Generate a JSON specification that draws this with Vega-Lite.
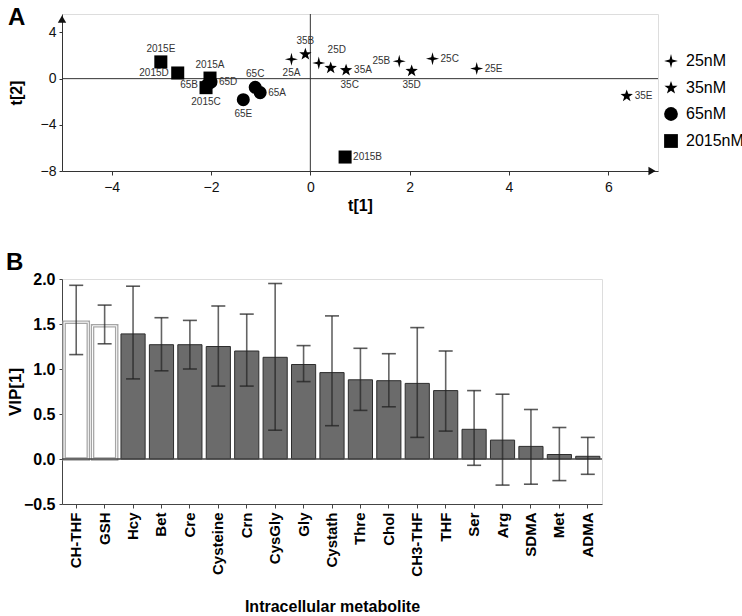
{
  "$schema": "https://vega.github.io/schema/vega-lite/v6.json",
  "spacing": 36,
  "datasets": {
    "scores": [
      {"id": "65A", "group": "65nM", "t1": -1.01, "t2": -1.21},
      {"id": "65B", "group": "65nM", "t1": -2.08, "t2": -0.55},
      {"id": "65C", "group": "65nM", "t1": -1.11, "t2": -0.75},
      {"id": "65D", "group": "65nM", "t1": -2.0, "t2": -0.3},
      {"id": "65E", "group": "65nM", "t1": -1.35, "t2": -1.82},
      {"id": "2015A", "group": "2015nM", "t1": -2.02, "t2": 0.05},
      {"id": "2015B", "group": "2015nM", "t1": 0.7, "t2": -6.79},
      {"id": "2015C", "group": "2015nM", "t1": -2.1, "t2": -0.78},
      {"id": "2015D", "group": "2015nM", "t1": -2.67, "t2": 0.49},
      {"id": "2015E", "group": "2015nM", "t1": -3.01, "t2": 1.45},
      {"id": "25A", "group": "25nM", "t1": -0.38, "t2": 1.68},
      {"id": "25B", "group": "25nM", "t1": 1.79, "t2": 1.51},
      {"id": "25C", "group": "25nM", "t1": 2.46, "t2": 1.73},
      {"id": "25D", "group": "25nM", "t1": 0.17, "t2": 1.36},
      {"id": "25E", "group": "25nM", "t1": 3.35, "t2": 0.87},
      {"id": "35A", "group": "35nM", "t1": 0.72, "t2": 0.73},
      {"id": "35B", "group": "35nM", "t1": -0.1, "t2": 2.11},
      {"id": "35C", "group": "35nM", "t1": 0.41, "t2": 0.93},
      {"id": "35D", "group": "35nM", "t1": 2.04, "t2": 0.67},
      {"id": "35E", "group": "35nM", "t1": 6.37, "t2": -1.5}
    ],
    "zero": [{"v": 0}],
    "arrowx": [{"x": 6.88, "y": -8}],
    "arrowy": [{"x": -5, "y": 5.15}],
    "vip": [
      {"name": "CH-THF", "vip": 1.52, "lo": 1.16, "hi": 1.93},
      {"name": "GSH", "vip": 1.48, "lo": 1.28, "hi": 1.71},
      {"name": "Hcy", "vip": 1.39, "lo": 0.89, "hi": 1.92},
      {"name": "Bet", "vip": 1.27, "lo": 0.98, "hi": 1.57},
      {"name": "Cre", "vip": 1.27, "lo": 1.0, "hi": 1.54},
      {"name": "Cysteine", "vip": 1.25, "lo": 0.81, "hi": 1.7},
      {"name": "Crn", "vip": 1.2, "lo": 0.81, "hi": 1.61},
      {"name": "CysGly", "vip": 1.13, "lo": 0.32, "hi": 1.95},
      {"name": "Gly", "vip": 1.05, "lo": 0.86, "hi": 1.26},
      {"name": "Cystath", "vip": 0.96, "lo": 0.37, "hi": 1.59},
      {"name": "Thre", "vip": 0.88, "lo": 0.54, "hi": 1.23},
      {"name": "Chol", "vip": 0.87, "lo": 0.58, "hi": 1.17},
      {"name": "CH3-THF", "vip": 0.84, "lo": 0.24, "hi": 1.46},
      {"name": "THF", "vip": 0.76, "lo": 0.31, "hi": 1.2},
      {"name": "Ser", "vip": 0.33, "lo": -0.07, "hi": 0.76},
      {"name": "Arg", "vip": 0.21, "lo": -0.29, "hi": 0.72},
      {"name": "SDMA", "vip": 0.14, "lo": -0.28, "hi": 0.55},
      {"name": "Met", "vip": 0.05, "lo": -0.24, "hi": 0.35},
      {"name": "ADMA", "vip": 0.03, "lo": -0.17, "hi": 0.24}
    ]
  },
  "vconcat": [
    {
      "width": 596,
      "height": 157,
      "title": {"text": "A", "anchor": "start", "fontSize": 24, "fontWeight": "bold", "offset": -16},
      "layer": [
        {
          "data": {"name": "zero"},
          "mark": {"type": "rule", "color": "#333"},
          "encoding": {"x": {"field": "v", "type": "quantitative"}}
        },
        {
          "data": {"name": "zero"},
          "mark": {"type": "rule", "color": "#333"},
          "encoding": {"y": {"field": "v", "type": "quantitative"}}
        },
        {
          "data": {"name": "arrowx"},
          "mark": {"type": "point", "shape": "triangle-right", "filled": true, "color": "#111", "size": 70, "opacity": 1},
          "encoding": {"x": {"field": "x", "type": "quantitative"}, "y": {"field": "y", "type": "quantitative"}}
        },
        {
          "data": {"name": "arrowy"},
          "mark": {"type": "point", "shape": "triangle-up", "filled": true, "color": "#111", "size": 70, "opacity": 1},
          "encoding": {"x": {"field": "x", "type": "quantitative"}, "y": {"field": "y", "type": "quantitative"}}
        },
        {
          "data": {"name": "scores"},
          "mark": {"type": "point", "filled": true, "color": "#000", "opacity": 1, "size": 170},
          "encoding": {
            "x": {"field": "t1", "type": "quantitative", "scale": {"domain": [-5, 7], "nice": false},
              "axis": {"values": [-4, -2, 0, 2, 4, 6], "grid": false, "title": "t[1]", "titleFontSize": 16, "labelFontSize": 14, "labelColor": "#111", "titleColor": "#000", "tickSize": 4, "tickColor": "#333", "domainColor": "#333", "labelPadding": 5, "titlePadding": 3}},
            "y": {"field": "t2", "type": "quantitative", "scale": {"domain": [-8, 5.6], "nice": false},
              "axis": {"values": [-8, -6, -4, -2, 0, 2, 4], "grid": false, "title": "t[2]", "titleFontSize": 16, "labelFontSize": 14, "labelColor": "#111", "titleColor": "#000", "tickSize": 3, "tickColor": "#333", "domainColor": "#333", "labelPadding": 3, "titlePadding": 8, "minExtent": 30, "maxExtent": 30}},
            "shape": {"field": "group", "type": "nominal",
              "scale": {"domain": ["25nM", "35nM", "65nM", "2015nM"], "range": ["M0,-1L0.2,-0.2L1,0L0.2,0.2L0,1L-0.2,0.2L-1,0L-0.2,-0.2Z", "M0,-1L0.235,-0.324L0.951,-0.309L0.38,0.124L0.588,0.809L0,0.4L-0.588,0.809L-0.38,0.124L-0.951,-0.309L-0.235,-0.324Z", "circle", "square"]},
              "legend": {"title": null, "orient": "none", "legendX": 601, "legendY": 39, "labelFontSize": 16, "labelColor": "#000", "symbolSize": 190, "symbolFillColor": "#000", "symbolStrokeColor": "#000", "rowPadding": 7, "labelOffset": 7}}
          }
        },
        {
          "data": {"name": "scores"},
          "transform": [{"filter": {"field": "id", "oneOf": ["2015E", "2015A", "65C", "35B"]}}],
          "mark": {"type": "text", "fontSize": 10, "color": "#333", "align": "center", "baseline": "bottom", "dy": -8},
          "encoding": {"x": {"field": "t1", "type": "quantitative"}, "y": {"field": "t2", "type": "quantitative"}, "text": {"field": "id", "type": "nominal"}}
        },
        {
          "data": {"name": "scores"},
          "transform": [{"filter": {"field": "id", "oneOf": ["2015C", "65E", "25A", "35D"]}}],
          "mark": {"type": "text", "fontSize": 10, "color": "#333", "align": "center", "baseline": "top", "dy": 9},
          "encoding": {"x": {"field": "t1", "type": "quantitative"}, "y": {"field": "t2", "type": "quantitative"}, "text": {"field": "id", "type": "nominal"}}
        },
        {
          "data": {"name": "scores"},
          "transform": [{"filter": {"field": "id", "oneOf": ["2015D", "65B", "25B"]}}],
          "mark": {"type": "text", "fontSize": 10, "color": "#333", "align": "right", "baseline": "middle", "dx": -9},
          "encoding": {"x": {"field": "t1", "type": "quantitative"}, "y": {"field": "t2", "type": "quantitative"}, "text": {"field": "id", "type": "nominal"}}
        },
        {
          "data": {"name": "scores"},
          "transform": [{"filter": {"field": "id", "oneOf": ["65D", "65A", "2015B", "25C", "25E", "35E", "35A"]}}],
          "mark": {"type": "text", "fontSize": 10, "color": "#333", "align": "left", "baseline": "middle", "dx": 8},
          "encoding": {"x": {"field": "t1", "type": "quantitative"}, "y": {"field": "t2", "type": "quantitative"}, "text": {"field": "id", "type": "nominal"}}
        },
        {
          "data": {"name": "scores"},
          "transform": [{"filter": {"field": "id", "oneOf": ["25D"]}}],
          "mark": {"type": "text", "fontSize": 10, "color": "#333", "align": "center", "baseline": "bottom", "dx": 18, "dy": -8},
          "encoding": {"x": {"field": "t1", "type": "quantitative"}, "y": {"field": "t2", "type": "quantitative"}, "text": {"field": "id", "type": "nominal"}}
        },
        {
          "data": {"name": "scores"},
          "transform": [{"filter": {"field": "id", "oneOf": ["35C"]}}],
          "mark": {"type": "text", "fontSize": 10, "color": "#333", "align": "center", "baseline": "top", "dx": 19, "dy": 12},
          "encoding": {"x": {"field": "t1", "type": "quantitative"}, "y": {"field": "t2", "type": "quantitative"}, "text": {"field": "id", "type": "nominal"}}
        }
      ]
    },
    {
      "width": 540,
      "height": 225,
      "title": {"text": "B", "anchor": "start", "fontSize": 24, "fontWeight": "bold", "offset": -4},
      "layer": [
        {
          "data": {"name": "vip"},
          "transform": [{"filter": {"not": {"field": "name", "oneOf": ["CH-THF", "GSH"]}}}],
          "mark": {"type": "bar", "fill": "#6b6b6b", "stroke": "#2d2d2d", "strokeWidth": 1},
          "encoding": {
            "x": {"field": "name", "type": "nominal",
              "sort": ["CH-THF", "GSH", "Hcy", "Bet", "Cre", "Cysteine", "Crn", "CysGly", "Gly", "Cystath", "Thre", "Chol", "CH3-THF", "THF", "Ser", "Arg", "SDMA", "Met", "ADMA"],
              "scale": {"paddingInner": 0.15, "paddingOuter": 0.075},
              "axis": {"labelAngle": -90, "labelFontWeight": "bold", "labelFontSize": 15, "labelColor": "#000", "title": "Intracellular metabolite", "titleFontSize": 16, "titleColor": "#000", "tickSize": 4, "tickColor": "#444", "domainColor": "#444", "labelPadding": 4, "titlePadding": 22}},
            "y": {"field": "vip", "type": "quantitative", "scale": {"domain": [-0.5, 2], "nice": false},
              "axis": {"values": [-0.5, 0, 0.5, 1, 1.5, 2], "grid": false, "title": "VIP[1]", "titleFontSize": 17, "titleColor": "#000", "labelFontWeight": "bold", "labelFontSize": 16, "labelColor": "#000", "tickSize": 3, "tickColor": "#444", "domainColor": "#444", "labelPadding": 4, "titlePadding": 2, "minExtent": 36, "maxExtent": 36}}
          }
        },
        {
          "data": {"name": "vip"},
          "transform": [{"filter": {"field": "name", "oneOf": ["CH-THF", "GSH"]}}],
          "mark": {"type": "bar", "fill": "#ffffff", "stroke": "#a5a5a5", "strokeWidth": 3.5},
          "encoding": {"x": {"field": "name", "type": "nominal", "sort": ["CH-THF", "GSH", "Hcy", "Bet", "Cre", "Cysteine", "Crn", "CysGly", "Gly", "Cystath", "Thre", "Chol", "CH3-THF", "THF", "Ser", "Arg", "SDMA", "Met", "ADMA"]}, "y": {"field": "vip", "type": "quantitative"}}
        },
        {
          "data": {"name": "vip"},
          "transform": [{"filter": {"field": "name", "oneOf": ["CH-THF", "GSH"]}}],
          "mark": {"type": "bar", "fill": "#ffffff", "fillOpacity": 0, "stroke": "#ffffff", "strokeWidth": 1},
          "encoding": {"x": {"field": "name", "type": "nominal", "sort": ["CH-THF", "GSH", "Hcy", "Bet", "Cre", "Cysteine", "Crn", "CysGly", "Gly", "Cystath", "Thre", "Chol", "CH3-THF", "THF", "Ser", "Arg", "SDMA", "Met", "ADMA"]}, "y": {"field": "vip", "type": "quantitative"}}
        },
        {
          "data": {"name": "zero"},
          "mark": {"type": "rule", "color": "#444", "strokeWidth": 1.3},
          "encoding": {"y": {"field": "v", "type": "quantitative"}}
        },
        {
          "data": {"name": "vip"},
          "mark": {"type": "rule", "color": "#222", "opacity": 0.7, "strokeWidth": 1.6},
          "encoding": {"x": {"field": "name", "type": "nominal", "sort": ["CH-THF", "GSH", "Hcy", "Bet", "Cre", "Cysteine", "Crn", "CysGly", "Gly", "Cystath", "Thre", "Chol", "CH3-THF", "THF", "Ser", "Arg", "SDMA", "Met", "ADMA"]}, "y": {"field": "lo", "type": "quantitative"}, "y2": {"field": "hi"}}
        },
        {
          "data": {"name": "vip"},
          "mark": {"type": "tick", "color": "#222", "opacity": 0.75, "thickness": 1.6, "size": 14},
          "encoding": {"x": {"field": "name", "type": "nominal", "sort": ["CH-THF", "GSH", "Hcy", "Bet", "Cre", "Cysteine", "Crn", "CysGly", "Gly", "Cystath", "Thre", "Chol", "CH3-THF", "THF", "Ser", "Arg", "SDMA", "Met", "ADMA"]}, "y": {"field": "hi", "type": "quantitative"}}
        },
        {
          "data": {"name": "vip"},
          "mark": {"type": "tick", "color": "#222", "opacity": 0.75, "thickness": 1.6, "size": 14},
          "encoding": {"x": {"field": "name", "type": "nominal", "sort": ["CH-THF", "GSH", "Hcy", "Bet", "Cre", "Cysteine", "Crn", "CysGly", "Gly", "Cystath", "Thre", "Chol", "CH3-THF", "THF", "Ser", "Arg", "SDMA", "Met", "ADMA"]}, "y": {"field": "lo", "type": "quantitative"}}
        }
      ]
    }
  ]
}
